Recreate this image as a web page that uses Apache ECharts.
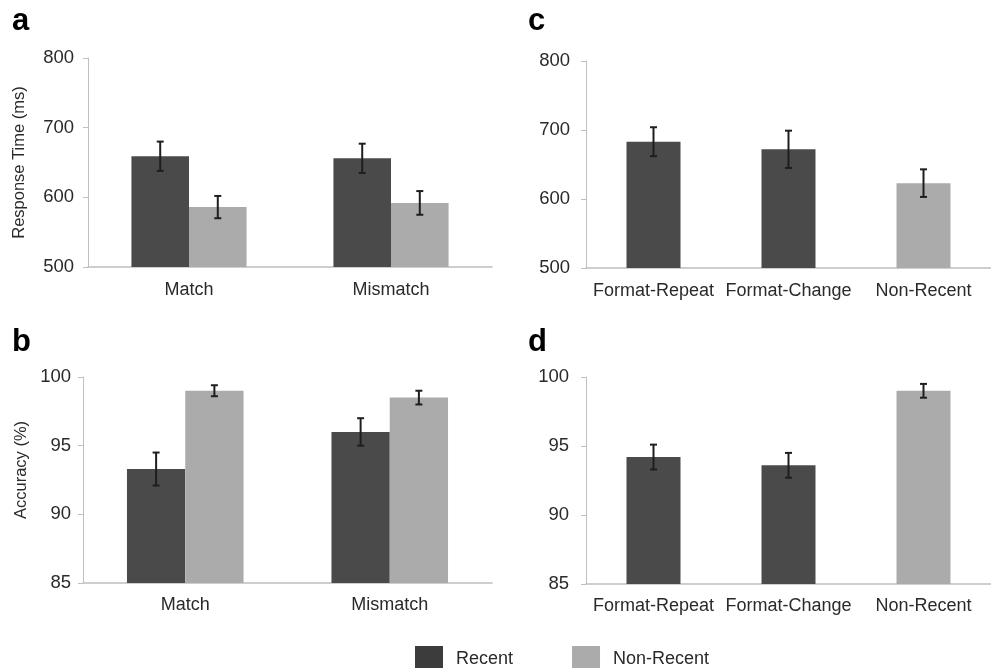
<!DOCTYPE html>
<html>
<head>
<meta charset="utf-8">
<title>Response time and accuracy by recency</title>
<script src="https://cdn.jsdelivr.net/npm/echarts@6/dist/echarts.min.js"></script>
<style>
  html, body { margin: 0; padding: 0; background: #fff; }
  #chart { width: 991px; height: 668px; }
</style>
</head>
<body>
<div id="chart"></div>
<script>
// Categories
const matchCategories = ['Match', 'Mismatch'];
const formatCategories = ['Format-Repeat', 'Format-Change', 'Non-Recent'];

// Panel a: response time (ms), match vs mismatch
const rtRecent = [659, 656];
const rtRecentErr = [21, 21];
const rtNonRecent = [586, 592];
const rtNonRecentErr = [16, 17];

// Panel b: accuracy (%), match vs mismatch
const accRecent = [93.3, 96.0];
const accRecentErr = [1.2, 1.0];
const accNonRecent = [99.0, 98.5];
const accNonRecentErr = [0.4, 0.5];

// Panel c: response time (ms) by format condition
const rtFormat = [683, 672, 623];
const rtFormatErr = [21, 27, 20];

// Panel d: accuracy (%) by format condition
const accFormat = [94.2, 93.6, 99.0];
const accFormatErr = [0.9, 0.9, 0.5];

// Which recency group each format condition belongs to
const formatGroup = ['Recent', 'Recent', 'Non-Recent'];

// Axis ranges and ticks
const rtTicks = [500, 600, 700, 800];
const accTicks = [85, 90, 95, 100];

const DARK = '#4a4a4a';
const LIGHT = '#ababab';
const AXIS = '#bfbfbf';
const TEXT = '#2a2a2a';
const FONT = '"Liberation Sans", Arial, sans-serif';

const chart = echarts.init(document.getElementById('chart'));

function yAxisFor(gridIndex, ticks, name, nameGap, labelMargin, namePad) {
  return {
    type: 'value', gridIndex,
    min: ticks[0], max: ticks[ticks.length - 1],
    interval: ticks[1] - ticks[0],
    name, nameLocation: 'middle', nameGap, nameRotate: 90,
    nameTextStyle: { fontSize: 16.5, color: TEXT, fontFamily: FONT, padding: namePad || 0 },
    axisLine: { show: true, lineStyle: { color: AXIS, width: 1 } },
    axisTick: { show: true, length: 5, lineStyle: { color: AXIS } },
    splitLine: { show: false },
    axisLabel: { fontSize: 18.5, color: TEXT, fontFamily: FONT, margin: labelMargin }
  };
}

function xAxisFor(gridIndex, cats, margin) {
  return {
    type: 'category', gridIndex, data: cats,
    axisLine: { show: true, lineStyle: { color: AXIS, width: 1.5 } },
    axisTick: { show: false },
    axisLabel: { interval: 0, fontSize: 18, color: TEXT, fontFamily: FONT, margin }
  };
}

// Error bar drawn at a bar's centre; shift is a fraction of the category width
function errorSeries(axisIndex, means, errs, shift) {
  const data = means.map((m, i) => (m == null ? null : [i, m + errs[i], m - errs[i]])).filter(d => d);
  return {
    type: 'custom',
    xAxisIndex: axisIndex, yAxisIndex: axisIndex,
    z: 10, silent: true,
    encode: { x: 0, y: [1, 2] },
    data,
    renderItem(params, api) {
      const cat = api.value(0);
      const top = api.coord([cat, api.value(1)]);
      const bot = api.coord([cat, api.value(2)]);
      const x = top[0] + api.size([1, 0])[0] * shift;
      const cap = 3.5;
      const style = { stroke: '#1e1e1e', lineWidth: 2 };
      return {
        type: 'group',
        children: [
          { type: 'line', shape: { x1: x, y1: top[1], x2: x, y2: bot[1] }, style },
          { type: 'line', shape: { x1: x - cap, y1: top[1], x2: x + cap, y2: top[1] }, style },
          { type: 'line', shape: { x1: x - cap, y1: bot[1], x2: x + cap, y2: bot[1] }, style }
        ]
      };
    }
  };
}

function groupedBars(axisIndex, recent, nonRecent) {
  return [
    { name: 'Recent', type: 'bar', xAxisIndex: axisIndex, yAxisIndex: axisIndex,
      data: recent, barWidth: '28.5%', barGap: '0%', itemStyle: { color: DARK } },
    { name: 'Non-Recent', type: 'bar', xAxisIndex: axisIndex, yAxisIndex: axisIndex,
      data: nonRecent, barWidth: '28.5%', barGap: '0%', itemStyle: { color: LIGHT } }
  ];
}

function conditionBars(axisIndex, values) {
  const recent = values.map((v, i) => (formatGroup[i] === 'Recent' ? v : '-'));
  const nonRecent = values.map((v, i) => (formatGroup[i] === 'Non-Recent' ? v : '-'));
  return [
    { name: 'Recent', type: 'bar', xAxisIndex: axisIndex, yAxisIndex: axisIndex,
      data: recent, barWidth: '40%', barGap: '-100%', itemStyle: { color: DARK } },
    { name: 'Non-Recent', type: 'bar', xAxisIndex: axisIndex, yAxisIndex: axisIndex,
      data: nonRecent, barWidth: '40%', barGap: '-100%', itemStyle: { color: LIGHT } }
  ];
}

const SHIFT = 0.1425;

const option = {
  animation: false,
  backgroundColor: '#fff',
  textStyle: { fontFamily: FONT },
  grid: [
    { left: 88, top: 58, width: 404, height: 209 },
    { left: 83, top: 377, width: 409, height: 206 },
    { left: 586, top: 61, width: 405, height: 207 },
    { left: 586, top: 377, width: 405, height: 207 }
  ],
  xAxis: [
    xAxisFor(0, matchCategories, 14),
    xAxisFor(1, matchCategories, 13),
    xAxisFor(2, formatCategories, 14),
    xAxisFor(3, formatCategories, 13)
  ],
  yAxis: [
    yAxisFor(0, rtTicks, 'Response Time (ms)', 60, 14),
    yAxisFor(1, accTicks, 'Accuracy (%)', 53, 12, [0, 0, 0, 20]),
    yAxisFor(2, rtTicks, '', 0, 16),
    yAxisFor(3, accTicks, '', 0, 17)
  ],
  legend: {
    left: 410, top: 641,
    itemWidth: 28, itemHeight: 27, itemGap: 59,
    icon: 'rect',
    data: [
      { name: 'Recent', itemStyle: { color: '#3c3c3c' } },
      { name: 'Non-Recent', itemStyle: { color: LIGHT } }
    ],
    textStyle: { fontSize: 18, color: TEXT, fontFamily: FONT, padding: [0, 0, 0, 8] },
    selectedMode: false
  },
  graphic: [
    { type: 'text', left: 12, top: 6, style: { text: 'a', font: 'bold 31px ' + FONT, fill: '#000' } },
    { type: 'text', left: 12, top: 327, style: { text: 'b', font: 'bold 31px ' + FONT, fill: '#000' } },
    { type: 'text', left: 528, top: 6, style: { text: 'c', font: 'bold 31px ' + FONT, fill: '#000' } },
    { type: 'text', left: 528, top: 327, style: { text: 'd', font: 'bold 31px ' + FONT, fill: '#000' } }
  ],
  series: [
    ...groupedBars(0, rtRecent, rtNonRecent),
    errorSeries(0, rtRecent, rtRecentErr, -SHIFT),
    errorSeries(0, rtNonRecent, rtNonRecentErr, SHIFT),

    ...groupedBars(1, accRecent, accNonRecent),
    errorSeries(1, accRecent, accRecentErr, -SHIFT),
    errorSeries(1, accNonRecent, accNonRecentErr, SHIFT),

    ...conditionBars(2, rtFormat),
    errorSeries(2, rtFormat, rtFormatErr, 0),

    ...conditionBars(3, accFormat),
    errorSeries(3, accFormat, accFormatErr, 0)
  ]
};

chart.setOption(option);
</script>
</body>
</html>
